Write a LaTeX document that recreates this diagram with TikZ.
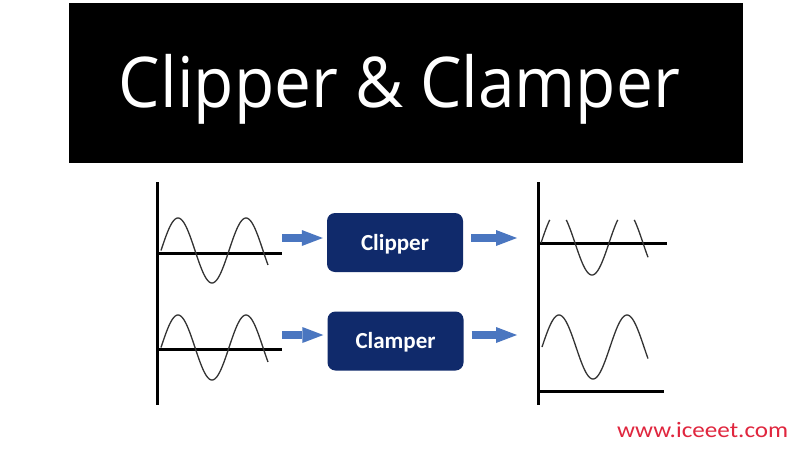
\documentclass[tikz,border=0pt]{standalone}
\usepackage{graphicx}
\usepackage{fontspec}
\newfontfamily\titlefont{Open Sans}
\newfontfamily\boxfont{Carlito}
\usetikzlibrary{arrows.meta}
\definecolor{navy}{HTML}{102A6B}
\definecolor{arrowblue}{HTML}{4A76C0}
\definecolor{urlred}{HTML}{E0263E}
\definecolor{wave}{HTML}{333333}
\tikzset{
  axisline/.style={line width=3pt, black},
  waveline/.style={line width=1.3pt, wave, samples=120},
  procbox/.style={fill=navy, rounded corners=8pt, minimum width=136pt, minimum height=59pt,
    inner sep=0pt, text height=15pt, text depth=0pt, text=white, font=\boxfont\bfseries\fontsize{23}{23}\selectfont},
  blockarrow/.style={line width=8pt, arrowblue, -{Triangle[length=21pt,width=16pt,line width=0pt]}, shorten >=4pt, shorten <=0pt}
}
\begin{document}
\begin{tikzpicture}[x=1pt,y=-1pt]
\useasboundingbox (0,0) rectangle (800,450);
\fill[white] (0,0) rectangle (800,450);
% banner
\node[fill=black, minimum width=674pt, minimum height=160pt, inner sep=0pt, anchor=north west] (banner) at (69,3) {};
\node[anchor=base, text=white, inner sep=0pt] (title) at (399.5,107)
  {\resizebox{561pt}{\height}{\titlefont\fontsize{70}{70}\selectfont Clipper \& Clamper}};
% left axes
\coordinate (lvt) at (157,182); \coordinate (lvb) at (157,405);
\draw[axisline] (lvt) -- (lvb);
\coordinate (lh1a) at (157,253); \coordinate (lh1b) at (282,253);
\coordinate (lh2a) at (157,349); \coordinate (lh2b) at (282,349);
\draw[axisline] (lh1a) -- (lh1b);
\draw[axisline] (lh2a) -- (lh2b);
% left waves
\draw[waveline] plot[domain=161:268] (\x,{250.5-32.5*sin(5.29412*(\x-161))});
\draw[waveline] plot[domain=161:268] (\x,{347.5-32.5*sin(5.29412*(\x-161))});
% boxes
\node[procbox] (clipper) at (395,242.5) {Clipper};
\node[procbox] (clamper) at (395.5,341) {Clamper};
% arrows
\coordinate (in1) at (282,238);
\coordinate (in2) at (282,335);
\coordinate (out1) at (517,238);
\coordinate (out2) at (517,335);
\draw[blockarrow] (in1) -- (clipper.west |- in1);
\draw[blockarrow] (in2) -- (clamper.west |- in2);
\draw[blockarrow, shorten >=0pt] ([xshift=8pt]clipper.east |- out1) -- (out1);
\draw[blockarrow, shorten >=0pt] ([xshift=8pt]clamper.east |- out2) -- (out2);
% right axes
\coordinate (rvt) at (538,182); \coordinate (rvb) at (538,405);
\draw[axisline] (rvt) -- (rvb);
\coordinate (rh1a) at (538,243); \coordinate (rh1b) at (667,243);
\coordinate (rh2a) at (538,391); \coordinate (rh2b) at (664,391);
\draw[axisline] (rh1a) -- (rh1b);
\draw[axisline] (rh2a) -- (rh2b);
% clipped wave
\draw[waveline] plot[domain=541:549.7] (\x,{243-32*sin(5.29412*(\x-541))});
\draw[waveline] plot[domain=566.3:617.7] (\x,{243-32*sin(5.29412*(\x-541))});
\draw[waveline] plot[domain=634.3:648] (\x,{243-32*sin(5.29412*(\x-541))});
% clamped wave
\draw[waveline] plot[domain=542:648] (\x,{347-32*sin(5.29412*(\x-542))});
% url
\node[anchor=base west, inner sep=0pt, text=urlred] (url) at (617,437)
  {\resizebox{171pt}{\height}{\boxfont\fontsize{22}{22}\selectfont www.iceeet.com}};
\end{tikzpicture}
\end{document}
